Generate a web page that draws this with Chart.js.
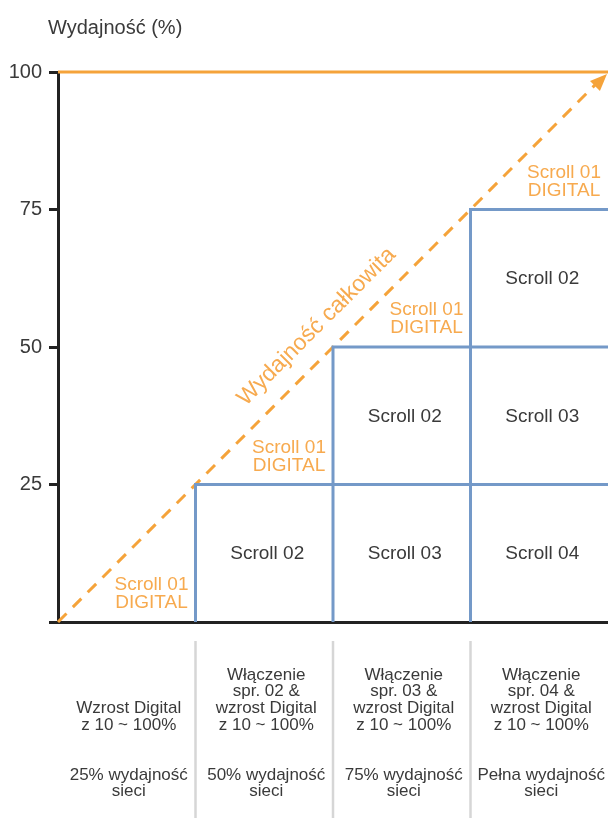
<!DOCTYPE html>
<html>
<head>
<meta charset="utf-8">
<script src="https://cdn.jsdelivr.net/npm/chart.js@4/dist/chart.umd.min.js"></script>
<style>
  html, body { margin: 0; padding: 0; background: #fff; }
  #wrap { width: 608px; height: 818px; }
</style>
</head>
<body>
<div id="wrap"><canvas id="c" width="608" height="818"></canvas></div>
<script>
// ---- data ----
const yTickValues = [0, 25, 50, 75, 100];
const stageCapacity = [25, 50, 75, 100];          // network capacity reached after each stage
const stageCount = stageCapacity.length;          // 4 stages on the x axis
const cellLabels = ['Scroll 02', 'Scroll 03', 'Scroll 04'];
const digitalLabel = ['Scroll 01', 'DIGITAL'];
const diagonalLabel = 'Wydajność całkowita';
const axisTitle = 'Wydajność (%)';
const stageSteps = [
  ['Wzrost Digital', 'z 10 ~ 100%'],
  ['Włączenie', 'spr. 02 &', 'wzrost Digital', 'z 10 ~ 100%'],
  ['Włączenie', 'spr. 03 &', 'wzrost Digital', 'z 10 ~ 100%'],
  ['Włączenie', 'spr. 04 &', 'wzrost Digital', 'z 10 ~ 100%']
];
const stageResult = [
  ['25% wydajność', 'sieci'],
  ['50% wydajność', 'sieci'],
  ['75% wydajność', 'sieci'],
  ['Pełna wydajność', 'sieci']
];

// ---- styles ----
const FONT = "'Liberation Sans', Arial, sans-serif";
const ORANGE = '#F5A33A';
const ORANGE_TEXT = '#F7AA4F';
const BLUE = '#7499C8';
const AXIS = '#222222';
const TEXT = '#3a3a3a';
const SEP = '#d6d6d6';

// ---- datasets built from the data ----
const datasets = [];
// compressor steps: each added compressor raises the capacity floor
for (let i = 1; i < stageCount; i++) {
  const lvl = stageCapacity[i - 1];
  datasets.push({
    data: [{x: i, y: 0}, {x: i, y: lvl}, {x: stageCount, y: lvl}],
    borderColor: BLUE, borderWidth: 3, showLine: true, pointRadius: 0, tension: 0, clip: 8
  });
}
// maximum capacity line
const maxCap = stageCapacity[stageCount - 1];
datasets.push({
  data: [{x: 0, y: maxCap}, {x: stageCount, y: maxCap}],
  borderColor: ORANGE, borderWidth: 3, showLine: true, pointRadius: 0, clip: 8
});
// total capacity ramp (dashed)
datasets.push({
  data: [{x: 0, y: 0}, {x: stageCount, y: maxCap}],
  borderColor: ORANGE, borderWidth: 3, borderDash: [12, 9], showLine: true, pointRadius: 0, clip: 8
});

function lines(ctx, arr, x, y0, lh) {
  arr.forEach((t, k) => ctx.fillText(t, x, y0 + k * lh));
}

const decor = {
  id: 'decor',
  afterDatasetsDraw(chart) {
    const ctx = chart.ctx;
    const xs = chart.scales.x, ys = chart.scales.y;
    const X = v => xs.getPixelForValue(v), Y = v => ys.getPixelForValue(v);
    const area = chart.chartArea;
    ctx.save();

    // axis title
    ctx.fillStyle = TEXT;
    ctx.font = `20px ${FONT}`;
    ctx.textAlign = 'left';
    ctx.textBaseline = 'middle';
    ctx.fillText(axisTitle, 48, 28);

    // arrow head at the end of the ramp
    const x0 = X(0), y0 = Y(0), x1 = X(stageCount), y1 = Y(maxCap);
    const ang = Math.atan2(y1 - y0, x1 - x0);
    const tipX = Math.min(x1, chart.width) - 1, tipY = y1 + 2;
    const L = 17, W = 7;
    ctx.fillStyle = ORANGE;
    ctx.beginPath();
    ctx.moveTo(tipX, tipY);
    ctx.lineTo(tipX - L * Math.cos(ang) + W * Math.sin(ang), tipY - L * Math.sin(ang) - W * Math.cos(ang));
    ctx.lineTo(tipX - L * Math.cos(ang) - W * Math.sin(ang), tipY - L * Math.sin(ang) + W * Math.cos(ang));
    ctx.closePath();
    ctx.fill();

    // label along the ramp
    const mx = X(stageCount / 2), my = Y(maxCap / 2);
    const nx = Math.sin(ang), ny = -Math.cos(ang);
    ctx.save();
    ctx.translate(mx + 26 * nx + 2, my + 26 * ny - 2);
    ctx.rotate(ang);
    ctx.font = `23px ${FONT}`;
    ctx.fillStyle = ORANGE_TEXT;
    ctx.textAlign = 'center';
    ctx.textBaseline = 'middle';
    ctx.fillText(diagonalLabel, 0, 0);
    ctx.restore();

    // digital compressor share in each stage
    ctx.font = `19px ${FONT}`;
    ctx.fillStyle = ORANGE_TEXT;
    ctx.textAlign = 'center';
    ctx.textBaseline = 'middle';
    for (let i = 0; i < stageCount; i++) {
      const base = Y(i === 0 ? 0 : stageCapacity[i - 1]);
      lines(ctx, digitalLabel, X(i + 0.68), base - 37, 18);
    }

    // fixed compressors stacked in each stage
    ctx.font = `19px ${FONT}`;
    ctx.fillStyle = TEXT;
    for (let c = 1; c < stageCount; c++) {
      for (let b = 0; b < c; b++) {
        const lo = b === 0 ? 0 : stageCapacity[b - 1];
        const hi = stageCapacity[b];
        ctx.fillText(cellLabels[c - b - 1], X(c + 0.5) + 3, (Y(lo) + Y(hi)) / 2 + 1);
      }
    }

    // table under the axis
    const bottom = area.bottom;
    ctx.strokeStyle = SEP;
    ctx.lineWidth = 2.5;
    for (let i = 1; i < stageCount; i++) {
      ctx.beginPath();
      ctx.moveTo(X(i), bottom + 19);
      ctx.lineTo(X(i), chart.height);
      ctx.stroke();
    }
    ctx.font = `17px ${FONT}`;
    ctx.fillStyle = TEXT;
    const lh = 16.7;
    for (let i = 0; i < stageCount; i++) {
      const cx = X(i + 0.5) + 2;
      const st = stageSteps[i];
      lines(ctx, st, cx, bottom + 53 + (4 - st.length) * lh, lh);
      lines(ctx, stageResult[i], cx, bottom + 153, lh);
    }
    ctx.restore();
  }
};

new Chart(document.getElementById('c'), {
  type: 'scatter',
  data: { datasets },
  options: {
    responsive: false,
    devicePixelRatio: 1,
    animation: false,
    layout: { padding: { top: 72, right: -2, left: 0, bottom: 0 } },
    plugins: { legend: { display: false }, tooltip: { enabled: false } },
    scales: {
      x: {
        type: 'linear', min: 0, max: stageCount,
        ticks: { display: false },
        grid: { display: false },
        border: { display: true, color: AXIS, width: 3 },
        afterFit: s => { s.height = 196; }
      },
      y: {
        min: 0, max: maxCap,
        afterBuildTicks: s => { s.ticks = yTickValues.map(v => ({ value: v })); },
        ticks: {
          callback: v => (v === 0 ? '' : v),
          font: { family: FONT, size: 20 }, color: TEXT, padding: 7
        },
        grid: { drawOnChartArea: false, tickLength: 9, color: AXIS, lineWidth: 3 },
        border: { display: true, color: AXIS, width: 3 },
        afterFit: s => { s.width = 58; }
      }
    }
  },
  plugins: [decor]
});
</script>
</body>
</html>
